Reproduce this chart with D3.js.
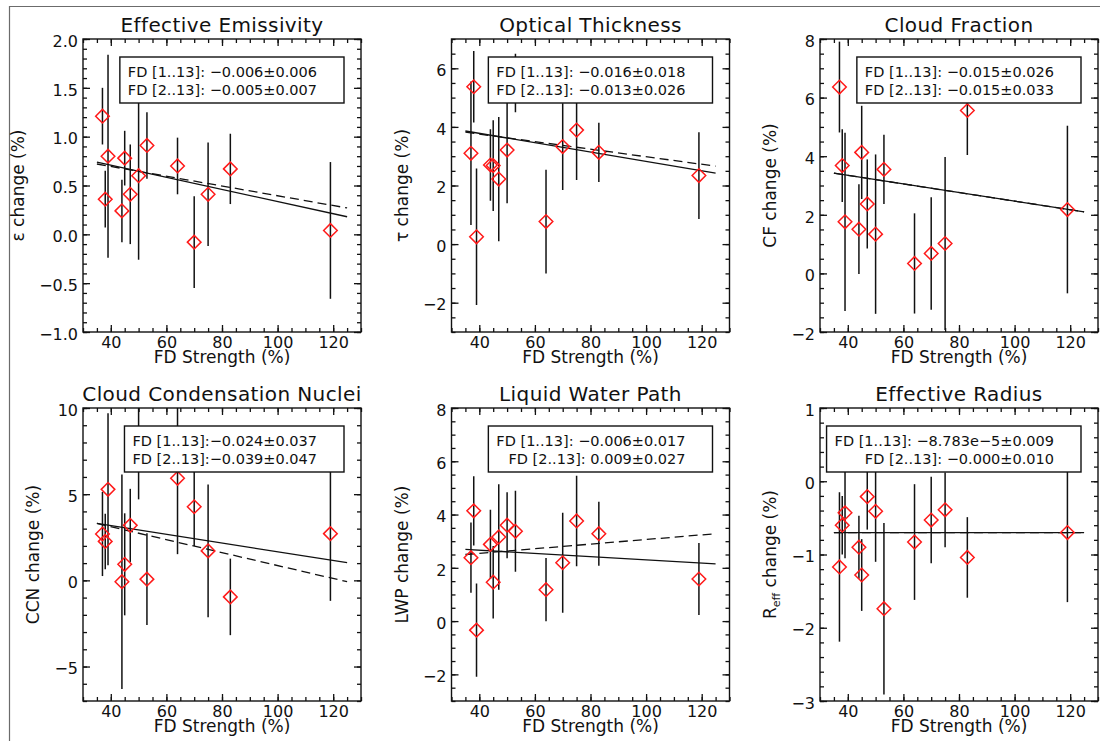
<!DOCTYPE html>
<html>
<head>
<meta charset="utf-8">
<script src="https://cdn.jsdelivr.net/npm/d3@7"></script>
<style>
  body { margin: 0; background: #fff; }
  svg { display: block; font-family: 'DejaVu Sans', sans-serif; fill: #111; }
  .panel-title { font-size: 20px; letter-spacing: 0.4px; }
  .tick text { font-size: 16px; fill: #111; font-family: 'DejaVu Sans', sans-serif; }
  .tick line { stroke: #111; stroke-width: 1.3; }
  .axis-title { font-size: 17px; }
  .legend-text { font-size: 14.5px; }
</style>
</head>
<body>
<div id="chart"></div>
<script>
// FD strength of the 13 Forbush decreases (x for every panel)
const fdStrength = [37, 38, 39, 44, 45, 47, 50, 53, 64, 70, 75, 83, 119];

// per panel: change (%) and its error bar half-length
const emissivityChange = [1.21, 0.36, 0.80, 0.24, 0.78, 0.41, 0.60, 0.91, 0.70, -0.08, 0.41, 0.67, 0.04];
const emissivityError = [0.29, 0.29, 1.04, 0.32, 0.28, 0.51, 0.86, 0.34, 0.29, 0.47, 0.53, 0.36, 0.70];

const opticalChange = [3.10, 5.37, 0.25, 2.70, 2.68, 2.22, 3.21, 5.50, 0.77, 3.33, 3.89, 3.13, 2.34];
const opticalError = [2.45, 1.22, 2.33, 1.22, 1.55, 2.12, 1.82, 1.00, 1.77, 1.48, 1.70, 1.01, 1.48];

const cloudFractionChange = [6.36, 3.68, 1.76, 1.51, 4.13, 2.37, 1.34, 3.55, 0.34, 0.68, 1.02, 5.56, 2.18];
const cloudFractionError = [1.55, 1.24, 3.04, 1.53, 1.59, 1.52, 2.72, 1.18, 1.71, 1.92, 2.95, 1.52, 2.86];

const ccnChange = [2.69, 2.26, 5.28, -0.08, 0.93, 3.19, 7.60, 0.07, 5.92, 4.27, 1.71, -0.96, 2.71];
const ccnError = [2.44, 1.61, 4.41, 6.22, 2.96, 2.12, 2.90, 2.66, 4.40, 2.27, 3.85, 2.22, 3.90];

const lwpChange = [2.38, 4.14, -0.34, 2.88, 1.46, 3.16, 3.60, 3.37, 1.18, 2.19, 3.76, 3.28, 1.58];
const lwpError = [1.32, 1.30, 1.75, 1.30, 1.36, 1.98, 1.24, 1.52, 1.19, 1.88, 1.70, 1.20, 1.35];

const reffChange = [-1.17, -0.60, -0.43, -0.90, -1.28, -0.21, -0.41, -1.74, -0.83, -0.53, -0.39, -1.04, -0.70];
const reffError = [1.02, 0.40, 0.62, 0.43, 0.49, 0.45, 0.69, 1.17, 0.79, 0.59, 0.51, 0.55, 0.95];

// fitted lines: value at FD = 35 and FD = 125 (solid: events 1..13, dashed: events 2..13)
const fitRange = [35, 125];
const fitAll = [[0.74, 0.18], [3.86, 2.42], [3.42, 2.10], [3.30, 1.03], [2.69, 2.15], [-0.70, -0.70]];
const fitNoFirst = [[0.72, 0.27], [3.82, 2.66], [3.42, 2.10], [3.30, -0.08], [2.50, 3.28], [-0.70, -0.70]];

const legendLines = [
  ['FD [1..13]: −0.006±0.006', 'FD [2..13]: −0.005±0.007'],
  ['FD [1..13]: −0.016±0.018', 'FD [2..13]: −0.013±0.026'],
  ['FD [1..13]: −0.015±0.026', 'FD [2..13]: −0.015±0.033'],
  ['FD [1..13]:−0.024±0.037', 'FD [2..13]:−0.039±0.047'],
  ['FD [1..13]: −0.006±0.017', 'FD [2..13]: 0.009±0.027'],
  ['FD [1..13]: −8.783e−5±0.009', 'FD [2..13]: −0.000±0.010'],
];

const titles = ['Effective Emissivity', 'Optical Thickness', 'Cloud Fraction',
  'Cloud Condensation Nuclei', 'Liquid Water Path', 'Effective Radius'];
const yLabels = ['ε change (%)', 'τ change (%)', 'CF change (%)', 'CCN change (%)', 'LWP change (%)', null];

const xMajorTicks = [40, 60, 80, 100, 120];

const panels = [
  { values: emissivityChange, errors: emissivityError, domain: [-1, 2], majors: d3.range(-1, 2.01, 0.5), minor: 0.1, fmt: d3.format('.1f') },
  { values: opticalChange, errors: opticalError, domain: [-3, 7], majors: [-2, 0, 2, 4, 6], minor: 0.5, fmt: d3.format('d') },
  { values: cloudFractionChange, errors: cloudFractionError, domain: [-2, 8], majors: [-2, 0, 2, 4, 6, 8], minor: 0.5, fmt: d3.format('d') },
  { values: ccnChange, errors: ccnError, domain: [-7, 10], majors: [-5, 0, 5, 10], minor: 1, fmt: d3.format('d') },
  { values: lwpChange, errors: lwpError, domain: [-3, 8], majors: [-2, 0, 2, 4, 6, 8], minor: 0.5, fmt: d3.format('d') },
  { values: reffChange, errors: reffError, domain: [-3, 1], majors: [-3, -2, -1, 0, 1], minor: 0.2, fmt: d3.format('d') },
];

const svg = d3.select('#chart').append('svg').attr('width', 1100).attr('height', 741);

// outer frame (top and left only)
svg.append('path')
  .attr('d', 'M9.5,741 V6.5 H1100')
  .attr('fill', 'none')
  .attr('stroke', '#6b6b6b')
  .attr('stroke-width', 1.2);

function minorValues(domain, step) {
  const n = Math.round((domain[1] - domain[0]) / step);
  return d3.range(n + 1).map((k) => +(domain[0] + k * step).toFixed(4));
}

panels.forEach((p, i) => {
  const width = 278, height = 293;
  const left = 83 + (i % 3) * 368.5;
  const top = 39 + Math.floor(i / 3) * 369;

  const g = svg.append('g').attr('transform', `translate(${left},${top})`);
  const x = d3.scaleLinear().domain([30, 130]).range([0, width]);
  const y = d3.scaleLinear().domain(p.domain).range([height, 0]);

  const data = fdStrength.map((fd, k) => ({ fd: fd, value: p.values[k], err: p.errors[k] }));

  // clip data to the plot box
  g.append('clipPath').attr('id', `clip${i}`)
    .append('rect').attr('width', width).attr('height', height);
  const plot = g.append('g').attr('clip-path', `url(#clip${i})`);

  // fit lines
  const line = d3.line().x((d) => x(d[0])).y((d) => y(d[1]));
  plot.append('path')
    .attr('d', line([[fitRange[0], fitNoFirst[i][0]], [fitRange[1], fitNoFirst[i][1]]]))
    .attr('fill', 'none').attr('stroke', '#111').attr('stroke-width', 1.3)
    .attr('stroke-dasharray', '9,5');
  plot.append('path')
    .attr('d', line([[fitRange[0], fitAll[i][0]], [fitRange[1], fitAll[i][1]]]))
    .attr('fill', 'none').attr('stroke', '#111').attr('stroke-width', 1.3);

  // error bars
  plot.selectAll('.err')
    .data(data)
    .join('line')
    .attr('class', 'err')
    .attr('x1', (d) => x(d.fd))
    .attr('x2', (d) => x(d.fd))
    .attr('y1', (d) => y(d.value + d.err))
    .attr('y2', (d) => y(d.value - d.err))
    .attr('stroke', '#111')
    .attr('stroke-width', 1.5);

  // diamonds
  const r = 6.8;
  plot.selectAll('.pt')
    .data(data)
    .join('path')
    .attr('class', 'pt')
    .attr('d', (d) => {
      const cx = x(d.fd), cy = y(d.value);
      return `M${cx - r},${cy} L${cx},${cy - r} L${cx + r},${cy} L${cx},${cy + r} Z`;
    })
    .attr('fill', 'none')
    .attr('stroke', '#ff1a1a')
    .attr('stroke-width', 1.5);

  // axes: ticks inside on all four sides
  const yMinor = minorValues(p.domain, p.minor);
  const xMinor = d3.range(30, 131, 5);

  g.append('g').attr('transform', `translate(0,${height})`)
    .call(d3.axisBottom(x).tickValues(xMinor).tickSize(-4).tickFormat(''));
  g.append('g').attr('transform', `translate(0,${height})`)
    .call(d3.axisBottom(x).tickValues(xMajorTicks).tickSize(-7).tickPadding(5).tickFormat(d3.format('d')));
  g.append('g')
    .call(d3.axisTop(x).tickValues(xMinor).tickSize(-4).tickFormat(''));
  g.append('g')
    .call(d3.axisTop(x).tickValues(xMajorTicks).tickSize(-7).tickFormat(''));

  g.append('g')
    .call(d3.axisLeft(y).tickValues(yMinor).tickSize(-4).tickFormat(''));
  const yAxis = g.append('g')
    .call(d3.axisLeft(y).tickValues(p.majors).tickSize(-7).tickPadding(5).tickFormat(p.fmt));
  yAxis.selectAll('text').attr('dy', '0.45em');
  g.append('g').attr('transform', `translate(${width},0)`)
    .call(d3.axisRight(y).tickValues(yMinor).tickSize(-4).tickFormat(''));
  g.append('g').attr('transform', `translate(${width},0)`)
    .call(d3.axisRight(y).tickValues(p.majors).tickSize(-7).tickFormat(''));
  g.selectAll('.domain').remove();

  g.append('rect')
    .attr('width', width).attr('height', height)
    .attr('fill', 'none').attr('stroke', '#111').attr('stroke-width', 1.4);

  // legend box with the fit slopes
  const legend = g.append('g');
  const box = legend.append('rect')
    .attr('y', 18).attr('height', 46)
    .attr('fill', '#fff').attr('stroke', '#111').attr('stroke-width', 1.4);
  const texts = legend.selectAll('.legend-text')
    .data(legendLines[i])
    .join('text')
    .attr('class', 'legend-text')
    .attr('x', 234)
    .attr('y', (d, k) => 38 + k * 18)
    .attr('text-anchor', 'end')
    .text((d) => d);
  const textLeft = d3.min(texts.nodes(), (n) => n.getBBox().x);
  box.attr('x', textLeft - 8).attr('width', 261 - (textLeft - 8));

  // titles
  g.append('text')
    .attr('class', 'panel-title')
    .attr('x', width / 2)
    .attr('y', -7)
    .attr('text-anchor', 'middle')
    .text(titles[i]);

  g.append('text')
    .attr('class', 'axis-title')
    .attr('x', width / 2)
    .attr('y', height + 31)
    .attr('text-anchor', 'middle')
    .text('FD Strength (%)');

  const labelWidth = d3.max(yAxis.selectAll('text').nodes(), (n) => n.getComputedTextLength());
  const yTitle = g.append('text')
    .attr('class', 'axis-title')
    .attr('transform', `translate(${-(5 + labelWidth + 15)},${height / 2}) rotate(-90)`)
    .attr('text-anchor', 'middle');
  if (yLabels[i]) {
    yTitle.text(yLabels[i]);
  } else {
    yTitle.append('tspan').text('R');
    yTitle.append('tspan').attr('font-size', '11px').attr('dy', 4).text('eff');
    yTitle.append('tspan').attr('dy', -4).text(' change (%)');
  }
});
</script>
</body>
</html>
